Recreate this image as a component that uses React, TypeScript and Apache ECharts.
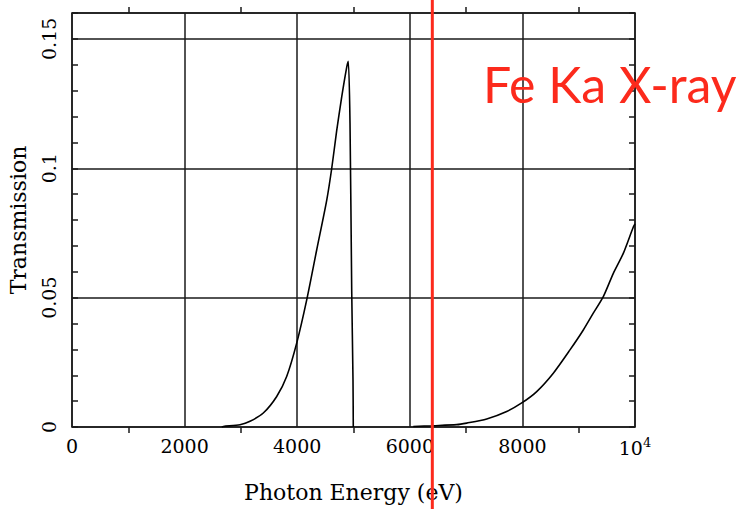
import React, { useEffect, useRef } from "react";
import * as echarts from "echarts";

// Photon energy (eV) and transmission, first window (below the edge)
const energyLow = [2660, 2687, 2984, 3162, 3398, 3636, 3813, 3991, 4169, 4346, 4524, 4613, 4702, 4790, 4879, 4908, 4938, 4968, 4991, 4996];
const transLow = [0, 0.0002, 0.0009, 0.0022, 0.0054, 0.0118, 0.0195, 0.0324, 0.0491, 0.0684, 0.0876, 0.0999, 0.1146, 0.1275, 0.139, 0.1413, 0.1174, 0.053, 0.0183, 0];
// second window (above ~6 keV)
const energyHigh = [6062, 6418, 6833, 7011, 7366, 7721, 7988, 8254, 8549, 8845, 9082, 9259, 9437, 9615, 9792, 9970, 10000];
const transHigh = [0.0002, 0.0005, 0.0009, 0.0015, 0.0031, 0.006, 0.0093, 0.0137, 0.0208, 0.0298, 0.0375, 0.044, 0.0504, 0.0594, 0.0671, 0.0773, 0.0785];

const feKaEnergy = 6400;
const xTicks = [0, 2000, 4000, 6000, 8000, 10000];
const yTicks = [0, 0.05, 0.1, 0.15];

const FONT = "DejaVu Serif";

export default function App() {
  const ref = useRef<HTMLDivElement>(null);
  useEffect(() => {
    document.body.style.margin = "0";
    const chart = echarts.init(ref.current!, undefined, { renderer: "svg" });
    const lineC = "#1a1a1a";
    const option: any = {
      animation: false,
      backgroundColor: "#fff",
      grid: { left: 72, right: 108, top: 13, bottom: 82, show: false, outerBoundsMode: "none", containLabel: false },
      xAxis: [
        {
          type: "value", min: 0, max: 10000, interval: 2000, position: "bottom",
          name: "Photon Energy (eV)", nameLocation: "middle", nameGap: 54,
          nameTextStyle: { fontFamily: FONT, fontSize: 22, color: "#000" },
          axisLine: { show: true, onZero: false, lineStyle: { color: lineC, width: 1.5 } },
          axisTick: { show: false },
          minorTick: { show: true, splitNumber: 2, length: 6, lineStyle: { color: lineC, width: 1.5 } },
          splitLine: { show: true, lineStyle: { color: lineC, width: 1.5 } },
          axisLabel: {
            margin: 9, fontFamily: FONT, fontSize: 19, color: "#000",
            formatter: (v: number) => (v === 10000 ? "{a|10}{b|4}" : xTicks.includes(v) ? String(v) : ""),
            rich: {
              a: { fontFamily: FONT, fontSize: 19, color: "#000" },
              b: { fontFamily: FONT, fontSize: 13, color: "#000", verticalAlign: "top", padding: [0, 0, 10, 0] },
            },
          },
        },
        {
          type: "value", min: 0, max: 10000, interval: 2000, position: "top",
          axisLine: { show: true, onZero: false, lineStyle: { color: lineC, width: 1.5 } },
          axisTick: { show: false },
          minorTick: { show: true, splitNumber: 2, length: 6, lineStyle: { color: lineC, width: 1.5 } },
          splitLine: { show: false },
          axisLabel: { show: false },
        },
      ],
      yAxis: [
        {
          type: "value", min: 0, max: 0.16, interval: 0.05, position: "left",
          name: "Transmission", nameLocation: "middle", nameGap: 43,
          nameTextStyle: { fontFamily: FONT, fontSize: 22, color: "#000" },
          axisLine: { show: true, onZero: false, lineStyle: { color: lineC, width: 1.5 } },
          axisTick: { show: false },
          splitLine: { show: true, lineStyle: { color: lineC, width: 1.5 } },
          axisLabel: {
            rotate: 90, margin: 14, fontFamily: FONT, fontSize: 19, color: "#000",
            formatter: (v: number) => {
              const t = yTicks.find((k) => Math.abs(k - v) < 1e-9);
              return t === undefined ? "" : String(t);
            },
          },
        },
        {
          type: "value", min: 0, max: 0.16, interval: 0.01, position: "left",
          axisLine: { show: false },
          axisTick: { show: true, inside: true, length: 6, lineStyle: { color: lineC, width: 1.5 } },
          splitLine: { show: false },
          axisLabel: { show: false },
        },
        {
          type: "value", min: 0, max: 0.16, interval: 0.01, position: "right",
          axisLine: { show: true, onZero: false, lineStyle: { color: lineC, width: 1.5 } },
          axisTick: { show: true, inside: true, length: 6, lineStyle: { color: lineC, width: 1.5 } },
          splitLine: { show: false },
          axisLabel: { show: false },
        },
      ],
      series: [
        {
          type: "line", xAxisIndex: 0, yAxisIndex: 0, symbol: "none",
          smooth: 0.25,
          data: energyLow.map((e, i) => [e, transLow[i]]),
          lineStyle: { color: "#000", width: 1.6 },
        },
        {
          type: "line", xAxisIndex: 0, yAxisIndex: 0, symbol: "none",
          smooth: 0.25,
          data: energyHigh.map((e, i) => [e, transHigh[i]]),
          lineStyle: { color: "#000", width: 1.6 },
        },
      ],
    };
    chart.setOption(option);
    const px = chart.convertToPixel({ xAxisIndex: 0 }, feKaEnergy) as number;
    chart.setOption({
      graphic: [
        {
          type: "line", z: 100,
          shape: { x1: px, y1: 0, x2: px, y2: 509 },
          style: { stroke: "#fc2a1c", lineWidth: 3 },
        },
        {
          type: "text", z: 101, x: 483, y: 84,
          style: {
            text: "Fe Ka X-ray", fill: "#fc2a1c", font: "50px Lato",
            verticalAlign: "middle", align: "left",
          },
        },
      ],
    });
    return () => chart.dispose();
  }, []);
  return <div ref={ref} style={{ position: "absolute", left: 0, top: 0, width: 743, height: 509 }} />;
}
